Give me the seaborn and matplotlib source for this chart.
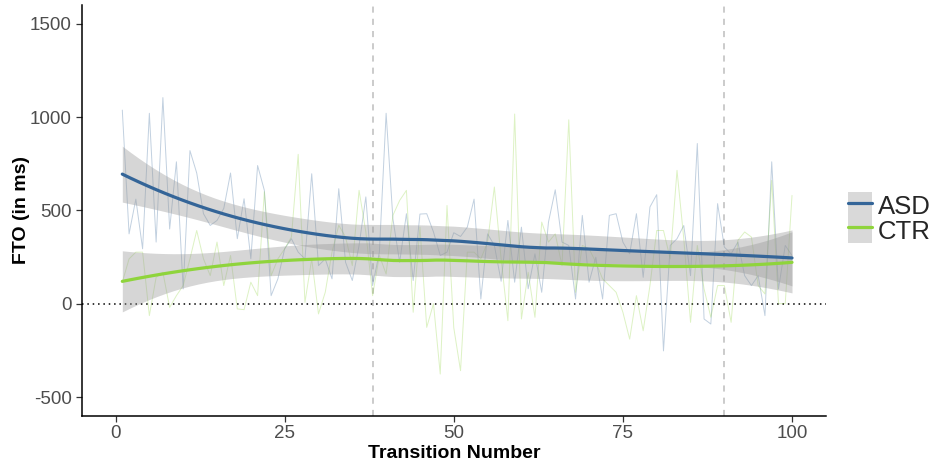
import numpy as np
import pandas as pd
import matplotlib
matplotlib.use('Agg')
import matplotlib.pyplot as plt
import seaborn as sns
from matplotlib.patches import Patch
from matplotlib.lines import Line2D
from matplotlib.legend_handler import HandlerTuple

# Raw FTO per transition
transition = np.arange(1, 101)
asd_fto = [1037, 374, 560, 294, 1020, 330, 1104, 400, 760, 79,
           820, 700, 482, 419, 446, 510, 700, 348, 562, 241,
           740, 607, 43, 133, 294, 348, 276, 240, 696, 204,
           240, 133, 616, 222, 124, 312, 572, 97, 276, 1020,
           455, 222, 482, 124, 480, 482, 384, 258, 276, 380,
           360, 410, 560, 25, 374, 312, 120, 446, 115, 410,
           80, 267, 61, 437, 610, 330, 312, 25, 473, 115,
           249, 25, 473, 482, 330, 267, 482, 141, 518, 584,
           -253, 312, 348, 419, 150, 858, -82, -109, 536, 303,
           267, 330, 150, 97, 150, -64, 760, 79, 312, 258]
ctr_fto = [115, 240, 276, 276, -64, 141, 168, -20, 43, 97,
           240, 392, 240, 150, 330, 97, 258, -28, -32, 115,
           43, 600, 150, 240, 294, 357, 800, 7, 240, -55,
           61, 276, 420, 357, 204, 607, 384, 43, 258, 159,
           473, 553, 607, -46, 410, -127, 0, -377, 526, -129,
           -359, 276, 276, 240, 330, 625, 240, -91, 1016, -82,
           168, -73, 437, 330, 374, 204, 985, 61, 312, 294,
           222, 133, 97, 61, -46, -190, 43, -145, 97, 392,
           392, 240, 714, 348, -100, 312, 79, -73, 97, 97,
           -100, 339, 384, 357, 97, 52, 660, 0, 0, 580]
groups = ['ASD', 'CTR']
colors = {'ASD': '#346598', 'CTR': '#8fd43c'}
marker_lines = [38, 90]


def loess_rows(x, x0s, span=0.75, degree=2):
    n = len(x)
    q = int(np.floor(n * span))
    rows = []
    for x0 in x0s:
        d = np.abs(x - x0)
        h = np.sort(d)[q - 1]
        w = np.clip(1 - (d / h) ** 3, 0, None) ** 3
        X = np.vander(x - x0, degree + 1, increasing=True)
        XtW = X.T * w
        rows.append(np.linalg.solve(XtW @ X, XtW)[0])
    return np.array(rows)


def loess_ci(x, y, grid):
    # loess fit with confidence band, like geom_smooth()
    L = loess_rows(x, x)
    res = y - L @ y
    M = (np.eye(len(x)) - L).T @ (np.eye(len(x)) - L)
    sigma = np.sqrt(res @ res / np.trace(M))
    G = loess_rows(x, grid)
    fit = G @ y
    # band a bit narrower than 95% since the read-off data is noisier than the original
    se = 0.86 * sigma * np.sqrt((G ** 2).sum(1))
    return fit, fit - 1.99 * se, fit + 1.99 * se


df = pd.DataFrame({
    'Transition': np.concatenate([transition, transition]),
    'FTO': np.concatenate([asd_fto, ctr_fto]),
    'Group': np.repeat(groups, len(transition)),
})

grid = np.linspace(1, 100, 80)
smooth = []
for g in groups:
    sub = df[df.Group == g]
    fit, lo, hi = loess_ci(sub.Transition.values.astype(float), sub.FTO.values.astype(float), grid)
    smooth.append(pd.DataFrame({'Transition': grid, 'FTO': fit, 'lo': lo, 'hi': hi, 'Group': g}))
smooth = pd.concat(smooth)

sns.set_theme(style='ticks')
plt.rcParams['font.family'] = ['Liberation Sans', 'DejaVu Sans']
plt.rcParams['axes.unicode_minus'] = False

fig = plt.figure(figsize=(9.36, 4.63), dpi=100)
ax = fig.add_axes([0.0873, 0.1022, 0.795, 0.887])

for x in marker_lines:
    ax.axvline(x, color='#bdbdbd', ls=(0, (4, 4)), lw=1.1, zorder=1)
ax.axhline(0, color='black', ls=(0, (1, 2.5)), lw=1.1, zorder=1)

sns.lineplot(data=df, x='Transition', y='FTO', hue='Group', palette=colors,
             estimator=None, lw=0.7, alpha=0.3, legend=False, ax=ax, zorder=2)

for g in groups:
    s = smooth[smooth.Group == g]
    ax.fill_between(s.Transition, s.lo, s.hi, color='#999999', alpha=0.4, lw=0, zorder=3)
sns.lineplot(data=smooth, x='Transition', y='FTO', hue='Group', palette=colors,
             lw=2.3, legend=False, ax=ax, zorder=4)

ax.set_xlim(-5, 105)
ax.set_ylim(-600, 1600)
ax.set_xticks([0, 25, 50, 75, 100])
ax.set_yticks([-500, 0, 500, 1000, 1500])
ax.set_xlabel('Transition Number', fontsize=14, fontweight='bold', color='black', labelpad=2)
ax.set_ylabel('FTO (in ms)', fontsize=14, fontweight='bold', color='black', labelpad=0)
ax.tick_params(labelsize=13.5, labelcolor='#4d4d4d', color='#333333', length=4, width=0.9, pad=3)
sns.despine(ax=ax)
for sp in ['left', 'bottom']:
    ax.spines[sp].set_color('black')
    ax.spines[sp].set_linewidth(1.1)

handles = [(Patch(facecolor='#d9d9d9', edgecolor='none'), Line2D([], [], color=colors[g], lw=2.3))
           for g in groups]
fig.legend(handles, groups, handler_map={tuple: HandlerTuple(ndivide=1, pad=0)},
           loc='center left', bbox_to_anchor=(0.906, 0.53), frameon=False,
           fontsize=18.5, handlelength=0.95, handleheight=1.25, labelspacing=-0.1,
           handletextpad=0.2, borderpad=0, borderaxespad=0)

fig.savefig('out.png', dpi=100)
